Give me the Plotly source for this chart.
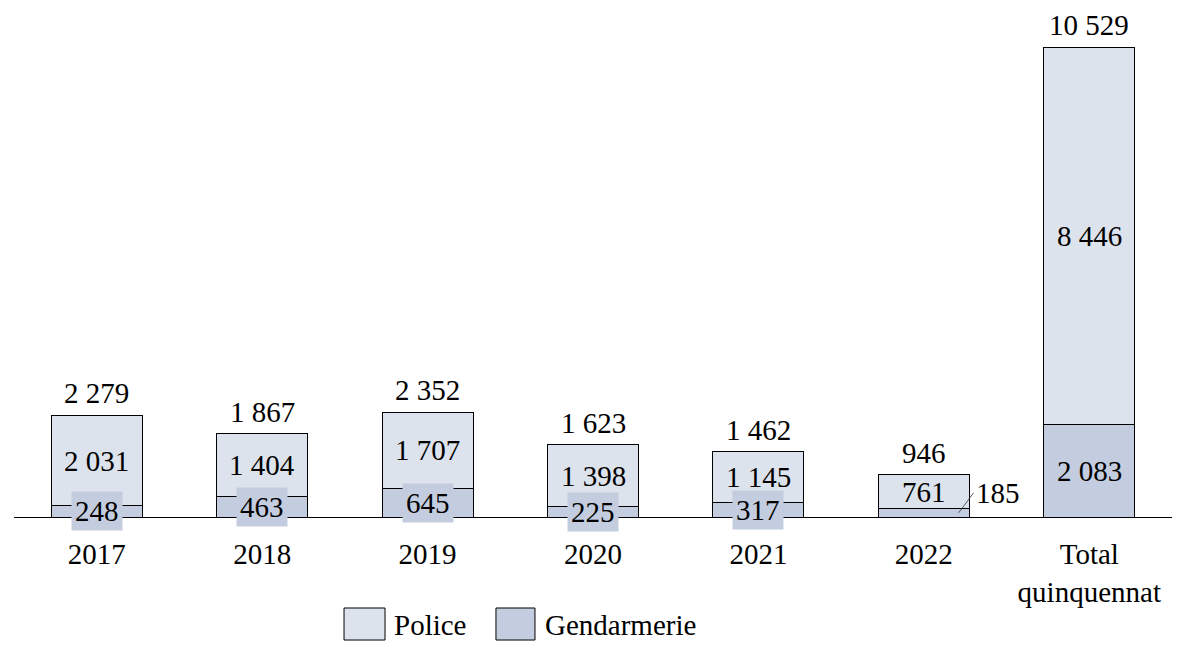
import plotly.graph_objects as go

# Data
categories = ["2017", "2018", "2019", "2020", "2021", "2022", "Total quinquennat"]
tick_labels = ["2017", "2018", "2019", "2020", "2021", "2022", "Total<br>quinquennat"]
police = [2031, 1404, 1707, 1398, 1145, 761, 8446]
gendarmerie = [248, 463, 645, 225, 317, 185, 2083]
totals = [2279, 1867, 2352, 1623, 1462, 946, 10529]

FONT = "Liberation Serif"
FS = 29
C_POLICE = "#DDE3ED"
C_GEND = "#C3CDDF"


def fmt(v):
  # French style thousands separator
  return f"{v:,}".replace(",", " ")


fig = go.Figure()
fig.add_trace(go.Bar(x=categories, y=gendarmerie, name="Gendarmerie",
                     marker=dict(color=C_GEND, line=dict(color="black", width=1))))
fig.add_trace(go.Bar(x=categories, y=police, name="Police",
                     marker=dict(color=C_POLICE, line=dict(color="black", width=1))))

annotations = []
for i, cat in enumerate(categories):
  # total on top
  annotations.append(dict(x=i, y=totals[i], text=fmt(totals[i]), showarrow=False,
                          yanchor="middle", yshift=22, font=dict(size=FS)))
  # police in middle of its segment
  annotations.append(dict(x=i, y=gendarmerie[i] + police[i] / 2, text=fmt(police[i]),
                          showarrow=False, yanchor="middle", font=dict(size=FS)))
  # gendarmerie
  if cat == "2022":
    annotations.append(dict(x=i + 0.21, y=gendarmerie[i] / 2, text=fmt(gendarmerie[i]),
                            showarrow=True, arrowhead=0, arrowwidth=0.8, arrowcolor="#333",
                            ax=15, ay=-20, xanchor="left", yanchor="middle",
                            font=dict(size=FS)))
  else:
    annotations.append(dict(x=i, y=gendarmerie[i] / 2, text=fmt(gendarmerie[i]),
                            showarrow=False, yanchor="middle", bgcolor=C_GEND,
                            borderpad=3, font=dict(size=FS)))

# hand-drawn legend with large swatches
shapes = [
  dict(type="rect", xref="paper", yref="paper", x0=0.2850, x1=0.3204, y0=-0.2417, y1=-0.1788,
       fillcolor=C_POLICE, line=dict(color="black", width=1)),
  dict(type="rect", xref="paper", yref="paper", x0=0.4162, x1=0.4499, y0=-0.2417, y1=-0.1788,
       fillcolor=C_GEND, line=dict(color="black", width=1)),
]
annotations.append(dict(xref="paper", yref="paper", x=0.3265, y=-0.2122, text="Police",
                        showarrow=False, xanchor="left", yanchor="middle", font=dict(size=FS)))
annotations.append(dict(xref="paper", yref="paper", x=0.4570, y=-0.2122, text="Gendarmerie",
                        showarrow=False, xanchor="left", yanchor="middle", font=dict(size=FS)))

# page body adds an 8px offset, margins compensate for it
fig.update_layout(
  barmode="stack",
  bargap=0.45,
  width=1189, height=661,
  margin=dict(l=6, r=25, t=0, b=152),
  paper_bgcolor="white", plot_bgcolor="white",
  font=dict(family=FONT, size=FS, color="black"),
  showlegend=False,
  annotations=annotations,
  shapes=shapes,
)
fig.update_xaxes(type="category", range=[-0.5, len(categories) - 0.5],
                 tickvals=list(range(len(categories))), ticktext=tick_labels, showline=True,
                 linecolor="black", linewidth=1, ticks="", ticklabelstandoff=11,
                 showgrid=False, tickangle=0, tickfont=dict(size=FS))
fig.update_yaxes(range=[0, 11410], visible=False, showgrid=False)

fig.write_html("out.html")
